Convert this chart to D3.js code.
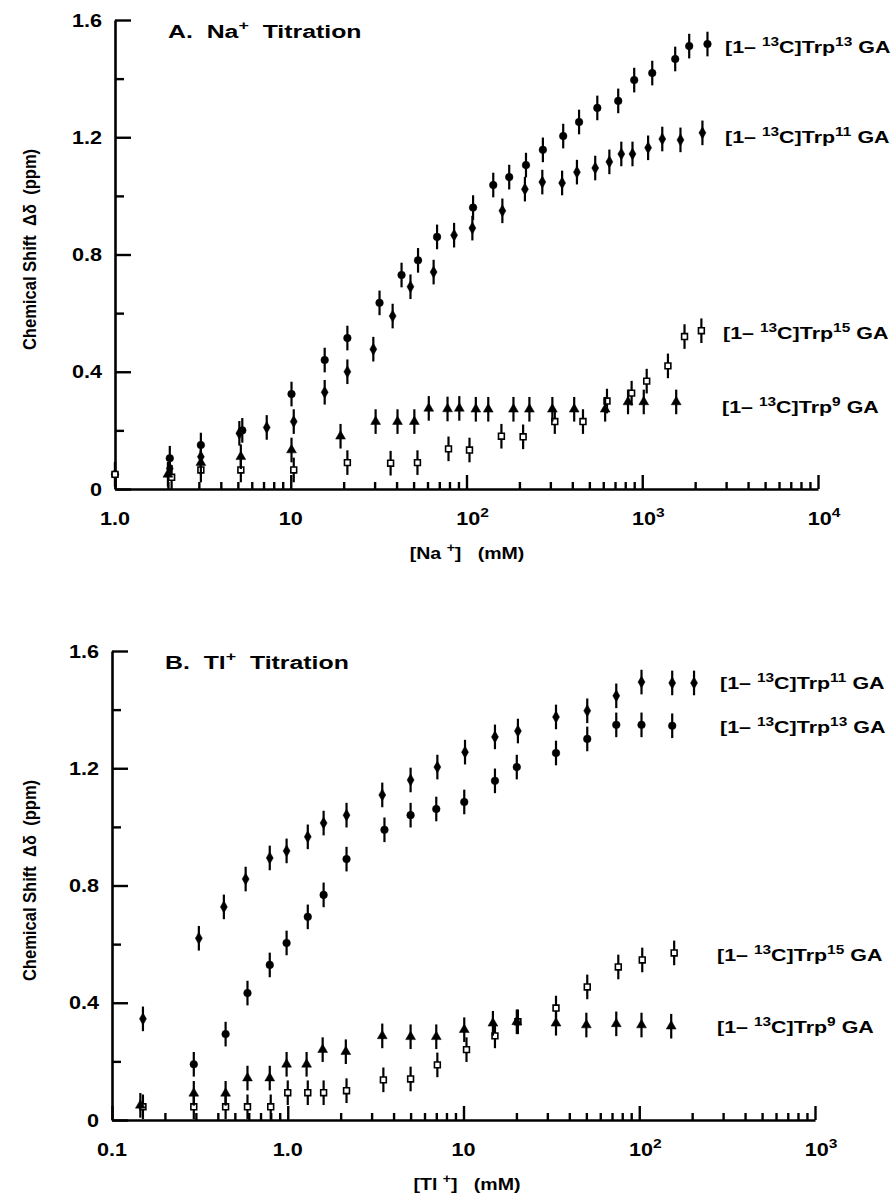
<!DOCTYPE html>
<html>
<head>
<meta charset="utf-8">
<script src="https://cdn.jsdelivr.net/npm/d3@7"></script>
<style>
  html, body { margin: 0; padding: 0; background: #fff; }
  svg { display: block; }
  text { font-family: "Liberation Sans", Arial, sans-serif; font-weight: bold; fill: #000; white-space: pre; }
</style>
</head>
<body>
<svg id="chart" width="892" height="1198"></svg>
<script>
'use strict';

// ---- data: [concentration (mM), shift (ppm)] ----
var naTrp13 = [[1.0,0.05],[2.05,0.105],[3.08,0.15],[5.3,0.20],[10.1,0.324],[15.6,0.44],[21,0.515],
  [32,0.635],[42.7,0.73],[53,0.78],[68,0.86],[109,0.96],[142,1.037],[175,1.064],[218,1.105],
  [272,1.157],[355,1.204],[437,1.252],[555,1.30],[730,1.324],[900,1.395],[1140,1.419],
  [1540,1.467],[1850,1.511],[2350,1.518]];
var naTrp11 = [[2.05,0.07],[3.08,0.11],[5.1,0.19],[7.3,0.21],[10.4,0.23],[15.6,0.33],[21,0.40],
  [29.5,0.477],[38,0.59],[48,0.69],[65,0.74],[85,0.866],[108,0.89],[160,0.949],[215,1.023],
  [270,1.047],[350,1.044],[425,1.081],[540,1.095],[650,1.116],[760,1.143],[880,1.143],
  [1080,1.164],[1300,1.194],[1650,1.191],[2200,1.215]];
var naTrp15 = [[1.0,0.05],[2.1,0.04],[3.08,0.065],[5.2,0.065],[10.4,0.065],[21,0.09],[37,0.088],
  [52.6,0.09],[79,0.137],[104,0.133],[158,0.18],[210,0.178],[318,0.23],[460,0.23],[630,0.30],
  [870,0.327],[1060,0.368],[1400,0.42],[1740,0.52],[2170,0.54]];
var naTrp9 = [[2.0,0.05],[3.08,0.09],[5.2,0.11],[10.1,0.133],[19.2,0.18],[30.4,0.23],[40.5,0.23],
  [50.5,0.23],[61,0.275],[78,0.273],[91,0.275],[113,0.272],[133,0.272],[185,0.272],[228,0.272],
  [308,0.272],[410,0.272],[615,0.272],[830,0.297],[1020,0.297],[1560,0.297]];

var tlTrp11 = [[0.15,0.345],[0.312,0.62],[0.433,0.727],[0.576,0.822],[0.79,0.894],[0.985,0.918],
  [1.30,0.966],[1.60,1.013],[2.16,1.04],[3.45,1.109],[5.0,1.16],[7.1,1.204],[10.2,1.255],
  [15.1,1.307],[20.4,1.327],[33.6,1.375],[50.6,1.396],[74,1.447],[103,1.494],[154,1.491],[205,1.491]];
var tlTrp13 = [[0.292,0.19],[0.443,0.293],[0.59,0.433],[0.79,0.529],[0.985,0.604],[1.30,0.693],
  [1.60,0.768],[2.16,0.89],[3.55,0.99],[5.0,1.04],[7.0,1.061],[10.1,1.085],[15.1,1.157],
  [20.1,1.204],[33.6,1.252],[50.6,1.30],[74,1.348],[103,1.348],[154,1.345]];
var tlTrp15 = [[0.15,0.045],[0.292,0.045],[0.443,0.045],[0.59,0.045],[0.8,0.045],[1.0,0.093],
  [1.3,0.093],[1.6,0.093],[2.16,0.10],[3.5,0.137],[5.0,0.14],[7.1,0.188],[10.4,0.24],[15.1,0.287],
  [20.4,0.335],[33.6,0.382],[50.6,0.454],[76,0.522],[104,0.546],[158,0.57]];
var tlTrp9 = [[0.145,0.05],[0.292,0.091],[0.443,0.091],[0.59,0.143],[0.79,0.143],[0.985,0.19],
  [1.28,0.19],[1.58,0.24],[2.14,0.233],[3.45,0.287],[5.0,0.284],[7.0,0.284],[10.1,0.308],
  [14.7,0.33],[20.1,0.335],[33.6,0.33],[50,0.324],[74,0.328],[103,0.324],[152,0.32]];

var errorBar = 0.042;                      // +/- ppm
var yTicks = [0, 0.4, 0.8, 1.2, 1.6];
var yMinorTicks = [0.2, 0.6, 1.0, 1.4];
var naDomain = [1, 1e4];
var tlDomain = [0.1, 1e3];
var naTickLabels = [["1.0"], ["10"], ["10", "2"], ["10", "3"], ["10", "4"]];
var tlTickLabels = [["0.1"], ["1.0"], ["10"], ["10", "2"], ["10", "3"]];

var SX = 1.3; // the printed lettering is wide: stretch horizontally

var svg = d3.select("#chart");

// text helper: parts = [[str, sup?, backToBaseline?], ...]
function label(g, x, y, anchor, size, parts, sx) {
	var t = g.append("text")
		.attr("transform", "translate(" + x + "," + y + ") scale(" + (sx || SX) + ",1)")
		.attr("text-anchor", anchor)
		.style("font-size", size + "px");
	parts.forEach(function(p) {
		var ts = t.append("tspan").text(p[0]);
		if (p[1]) {
			ts.attr("dy", -size * 0.42).style("font-size", (size * 0.72) + "px");
		} else if (p[2]) {
			ts.attr("dy", size * 0.42);
		}
	});
	return t;
}

function seriesLabel(g, x, y, num) {
	return label(g, x, y, "start", 16.5, [["[1\u2013 "], ["13", true], ["C]Trp", false, true], [num, true], [" GA", false, true]]);
}

var symbols = {
	circle: d3.symbol().type(d3.symbolCircle).size(46),
	diamond: d3.symbol().type(d3.symbolDiamond).size(42),
	triangle: d3.symbol().type(d3.symbolTriangle).size(42),
	square: d3.symbol().type(d3.symbolSquare).size(34)
};

function drawPanel(cfg) {
	var g = svg.append("g");
	var x = d3.scaleLog().domain(cfg.domain).range([cfg.left, cfg.right]);
	var y = d3.scaleLinear().domain([0, 1.6]).range([cfg.bottom, cfg.top]);

	// y axis, ticks inward
	g.append("g").attr("transform", "translate(" + cfg.left + ",0)")
		.call(d3.axisRight(y).tickValues(yTicks).tickSize(16).tickSizeOuter(0).tickFormat(""));
	g.append("g").attr("transform", "translate(" + cfg.left + ",0)")
		.call(d3.axisRight(y).tickValues(yMinorTicks).tickSize(9).tickSizeOuter(0).tickFormat(""))
		.select(".domain").remove();
	yTicks.forEach(function(v) {
		label(g, cfg.left - 13, y(v) + 6.5, "end", 18, [[v === 0 ? "0" : d3.format(".1f")(v)]], 1.2);
	});

	// x axis, ticks inward
	var lo = Math.log10(cfg.domain[0]), hi = Math.log10(cfg.domain[1]);
	var majors = d3.range(lo, hi + 1).map(function(e) { return Math.pow(10, e); });
	var minors = [];
	majors.slice(0, -1).forEach(function(m) {
		d3.range(2, 10).forEach(function(k) { minors.push(m * k); });
	});
	g.append("g").attr("transform", "translate(0," + cfg.bottom + ")")
		.call(d3.axisTop(x).tickValues(majors).tickSize(14).tickSizeOuter(0).tickFormat(""));
	g.append("g").attr("transform", "translate(0," + cfg.bottom + ")")
		.call(d3.axisTop(x).tickValues(minors).tickSize(7).tickSizeOuter(0).tickFormat(""))
		.select(".domain").remove();
	majors.forEach(function(m, i) {
		var tl = cfg.tickLabels[i];
		label(g, x(m) + (tl.length > 1 ? 6 : 0), cfg.bottom + 36, "middle", 18,
			tl.length > 1 ? [[tl[0]], [tl[1], true]] : [[tl[0]]], 1.2);
	});

	g.selectAll(".domain, .tick line").attr("stroke", "#000").attr("stroke-width", 2.4);
	g.selectAll(".domain").attr("stroke-width", 2.6);

	// data
	cfg.series.forEach(function(s) {
		var sg = g.append("g");
		sg.selectAll("line.err").data(s.data).join("line")
			.attr("class", "err")
			.attr("x1", function(d) { return x(d[0]); })
			.attr("x2", function(d) { return x(d[0]); })
			.attr("y1", function(d) { return y(d[1] - errorBar); })
			.attr("y2", function(d) { return y(d[1] + errorBar); })
			.attr("stroke", "#000").attr("stroke-width", 2.2);
		sg.selectAll("path.mk").data(s.data).join("path")
			.attr("class", "mk")
			.attr("d", symbols[s.symbol])
			.attr("transform", function(d) { return "translate(" + x(d[0]) + "," + y(d[1]) + ")"; })
			.attr("fill", s.symbol === "square" ? "#fff" : "#000")
			.attr("stroke", "#000").attr("stroke-width", s.symbol === "square" ? 1.6 : 0.5);
		seriesLabel(g, s.labelPos[0], s.labelPos[1], s.num);
	});

	// titles
	label(g, cfg.title.x, cfg.title.y, "start", 18,
		[[cfg.title.text + "  " + cfg.title.ion], ["+", true], ["  Titration", false, true]], 1.38);
	label(g, 467, cfg.bottom + 70, "middle", 17,
		[["[" + cfg.title.ion + " "], ["+", true], ["]   (mM)", false, true]], 1.15);
	var ymid = (cfg.top + cfg.bottom) / 2 - 5;
	g.append("text")
		.attr("transform", "translate(36," + ymid + ") rotate(-90) scale(0.92,1)")
		.attr("text-anchor", "middle")
		.style("font-size", "18px")
		.text("Chemical Shift  \u0394\u03b4  (ppm)");
}

drawPanel({
	domain: naDomain, left: 115, right: 818, top: 20, bottom: 489,
	tickLabels: naTickLabels,
	title: { x: 168, y: 38, text: "A.", ion: "Na" },
	series: [
		{ data: naTrp13, symbol: "circle", num: "13", labelPos: [725, 53] },
		{ data: naTrp11, symbol: "diamond", num: "11", labelPos: [725, 143] },
		{ data: naTrp15, symbol: "square", num: "15", labelPos: [723, 339] },
		{ data: naTrp9, symbol: "triangle", num: "9", labelPos: [722, 413] }
	]
});

drawPanel({
	domain: tlDomain, left: 112, right: 815, top: 651, bottom: 1120,
	tickLabels: tlTickLabels,
	title: { x: 165, y: 669, text: "B.", ion: "Tl" },
	series: [
		{ data: tlTrp11, symbol: "diamond", num: "11", labelPos: [720, 689] },
		{ data: tlTrp13, symbol: "circle", num: "13", labelPos: [720, 733] },
		{ data: tlTrp15, symbol: "square", num: "15", labelPos: [717, 961] },
		{ data: tlTrp9, symbol: "triangle", num: "9", labelPos: [717, 1033] }
	]
});
</script>
</body>
</html>
